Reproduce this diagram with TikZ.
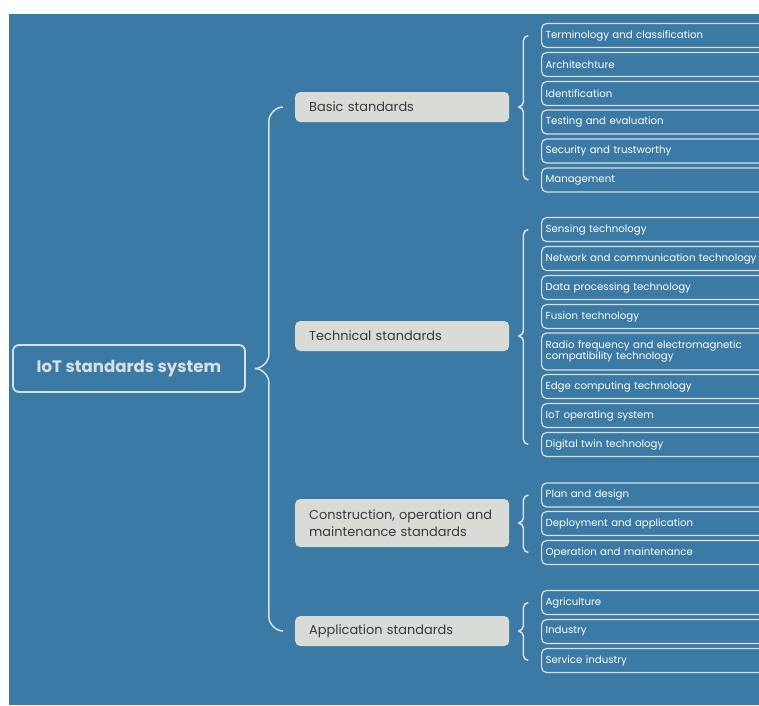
\documentclass[tikz,border=0pt]{standalone}
\usepackage{fontspec}
\setmainfont{Poppins}
\usetikzlibrary{calc}
\definecolor{bgblue}{RGB}{59,122,164}
\definecolor{boxgray}{RGB}{216,219,214}
\definecolor{linegray}{RGB}{214,224,230}
\definecolor{darktext}{RGB}{52,58,62}
% curly bracket from a parent to its first and last child
\newcommand\bracket[4]{%
  \draw[brace] ($(#1.east)+(9,0)$) coordinate (t)
    .. controls +(#4/2,0) and +(0,#4/2) .. ($(t)+(#4,-#4)$)
    -- ($(t |- #2.west)+(#4,#4)$)
    .. controls +(0,-#4/2) and +(-#4/2,0) .. ($(t |- #2.west)+(2*#4,0)$);
  \draw[brace] (t)
    .. controls +(#4/2,0) and +(0,-#4/2) .. ($(t)+(#4,#4)$)
    -- ($(t |- #3.west)+(#4,-#4)$)
    .. controls +(0,#4/2) and +(-#4/2,0) .. ($(t |- #3.west)+(2*#4,0)$);
}
\begin{document}
\begin{tikzpicture}[x=1pt,y=-1pt,
    root/.style={draw=linegray,line width=1.8pt,rounded corners=6pt,
      minimum width=232pt,minimum height=47pt,text=linegray,
      font=\fontsize{16.6}{20}\selectfont\bfseries},
    cat/.style={fill=boxgray,rounded corners=5pt,anchor=west,align=left,
      text width=186pt,inner xsep=14pt,minimum height=30pt,text=darktext,
      font=\fontsize{12.9}{16.5}\selectfont},
    item/.style={draw=linegray,line width=1.2pt,rounded corners=5pt,anchor=west,
      align=left,text width=240pt,inner xsep=4pt,minimum height=24pt,
      text=white,font=\fontsize{10.2}{11.5}\selectfont},
    brace/.style={draw=linegray,line width=1.5pt}]
  \useasboundingbox (0,0) rectangle (759,705);
  \clip (0,0) rectangle (759,705);
  \fill[white] (0,0) rectangle (759,705);
  \fill[bgblue] (9,14) rectangle (759,705);

  \node[root] (iot) at (129,368.5) {IoT standards system};

  \node[cat] (basic) at (295,107) {Basic standards};
  \node[cat] (tech) at (295,336) {Technical standards};
  \node[cat,minimum height=48pt] (cons) at (295,523)
    {Construction, operation and\\maintenance standards};
  \node[cat] (app) at (295,631) {Application standards};

  \node[item] (b1) at (541,35.5) {Terminology and classification};
  \node[item] (b2) at (541,64.5) {Architechture};
  \node[item] (b3) at (541,93.5) {Identification};
  \node[item] (b4) at (541,122) {Testing and evaluation};
  \node[item] (b5) at (541,151) {Security and trustworthy};
  \node[item] (b6) at (541,180) {Management};

  \node[item] (t1) at (541,229.5) {Sensing technology};
  \node[item] (t2) at (541,258.5) {Network and communication technology};
  \node[item] (t3) at (541,287.5) {Data processing technology};
  \node[item] (t4) at (541,316.5) {Fusion technology};
  \node[item,minimum height=37pt] (t5) at (541,351.5)
    {Radio frequency and electromagnetic\\compatibility technology};
  \node[item] (t6) at (541,386.5) {Edge computing technology};
  \node[item] (t7) at (541,415.5) {IoT operating system};
  \node[item] (t8) at (541,444.5) {Digital twin technology};

  \node[item] (c1) at (541,495) {Plan and design};
  \node[item] (c2) at (541,523.5) {Deployment and application};
  \node[item] (c3) at (541,552.5) {Operation and maintenance};

  \node[item] (a1) at (541,602.5) {Agriculture};
  \node[item] (a2) at (541,631.5) {Industry};
  \node[item] (a3) at (541,660.5) {Service industry};

  \bracket{iot}{basic}{app}{14}
  \bracket{basic}{b1}{b6}{5}
  \bracket{tech}{t1}{t8}{5}
  \bracket{cons}{c1}{c3}{5}
  \bracket{app}{a1}{a3}{5}
\end{tikzpicture}
\end{document}
